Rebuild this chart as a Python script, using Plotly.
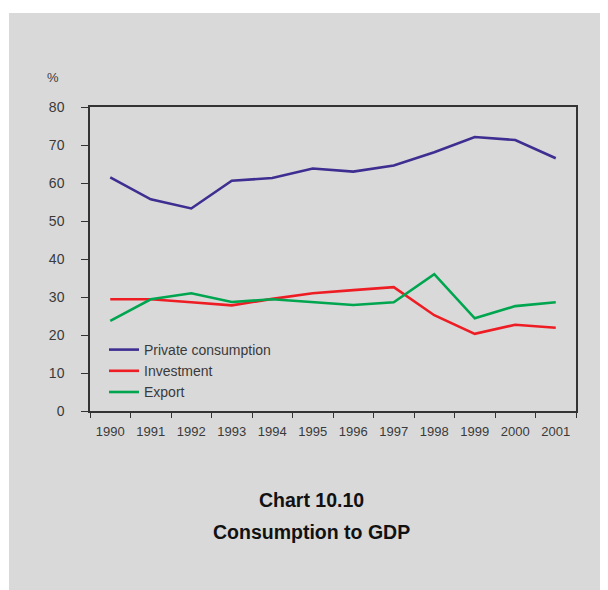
import plotly.graph_objects as go

years = ["1990", "1991", "1992", "1993", "1994", "1995", "1996", "1997", "1998", "1999", "2000", "2001"]
private_consumption = [61.5, 55.7, 53.3, 60.6, 61.3, 63.8, 63.0, 64.6, 68.1, 72.1, 71.3, 66.5]
investment = [29.4, 29.4, 28.6, 27.8, 29.5, 31.0, 31.8, 32.6, 25.2, 20.3, 22.7, 21.9]
export = [23.7, 29.4, 31.0, 28.7, 29.4, 28.7, 27.9, 28.6, 36.0, 24.4, 27.6, 28.6]
y_ticks = [0, 10, 20, 30, 40, 50, 60, 70, 80]

OFF = 8  # page body margin
W, H = 608, 590
L, R, T, B = 90 - OFF, 40, 107 - OFF, 187
pw, ph = W - L - R, H - T - B

def px_x(x):
    return (x - OFF - L) / pw

def px_y(y):
    return (H - B - (y - OFF)) / ph

font_main = "Liberation Sans"
txt_col = "#3a3a3a"

fig = go.Figure()
fig.add_trace(go.Scatter(x=years, y=private_consumption, mode="lines", name="Private consumption",
                         line=dict(color="#3e2e91", width=2.6)))
fig.add_trace(go.Scatter(x=years, y=investment, mode="lines", name="Investment",
                         line=dict(color="#ee1d24", width=2.6)))
fig.add_trace(go.Scatter(x=years, y=export, mode="lines", name="Export",
                         line=dict(color="#00a54f", width=2.6)))

fig.update_layout(
    width=W, height=H,
    margin=dict(l=L, r=R, t=T, b=B, pad=0),
    paper_bgcolor="white",
    plot_bgcolor="#e8ebf6",
    font=dict(family=font_main, size=13, color=txt_col),
    showlegend=True,
    legend=dict(x=px_x(104), y=px_y(334), xanchor="left", yanchor="top",
                bgcolor="rgba(0,0,0,0)", font=dict(size=14, color=txt_col),
                itemwidth=30, tracegroupgap=0),
    xaxis=dict(type="category", categoryorder="array", categoryarray=years,
               tickson="boundaries", ticks="outside", ticklen=5, tickcolor="#333",
               showline=True, linecolor="#333", linewidth=1.5, mirror=True,
               showgrid=False, zeroline=False, range=[-0.5, 11.5],
               tickfont=dict(size=13, color=txt_col), ticklabelstandoff=8),
    yaxis=dict(range=[0, 80], tickvals=y_ticks, ticks="outside", ticklen=7, tickcolor="#333",
               showline=True, linecolor="#333", linewidth=1.5, mirror=True,
               showgrid=False, zeroline=False,
               tickfont=dict(size=14, color=txt_col), ticklabelstandoff=14),
    shapes=[
        dict(type="rect", xref="paper", yref="paper", x0=px_x(9), x1=px_x(W + 20),
             y0=px_y(H + 20), y1=px_y(13), fillcolor="#d9d9d9", line=dict(width=0), layer="below"),
    ],
    annotations=[
        dict(text="%", xref="paper", yref="paper", x=px_x(53), y=px_y(78), showarrow=False,
             font=dict(size=13, color=txt_col), xanchor="center", yanchor="middle"),
        dict(text="<b>Chart 10.10</b>", xref="paper", yref="paper", x=px_x(311), y=px_y(500),
             showarrow=False, font=dict(size=19.5, color="#111"), xanchor="center", yanchor="middle"),
        dict(text="<b>Consumption to GDP</b>", xref="paper", yref="paper", x=px_x(311), y=px_y(532),
             showarrow=False, font=dict(size=19.5, color="#111"), xanchor="center", yanchor="middle"),
    ],
)

fig.write_html("out.html")
